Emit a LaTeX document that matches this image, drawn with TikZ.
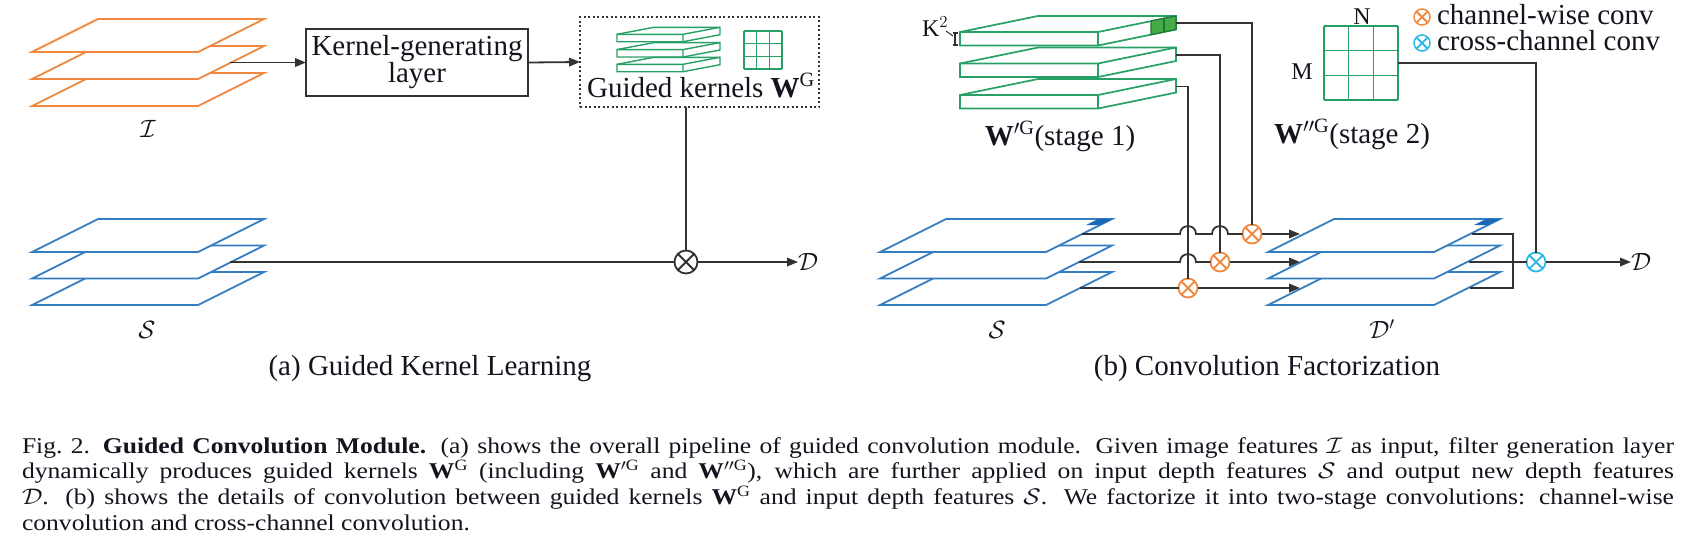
\RequirePackage{fix-cm}
\documentclass[tikz,border=0pt]{standalone}
\usepackage{fontspec}
\setmainfont{Liberation Serif}
\usepackage{graphicx}
\usetikzlibrary{arrows.meta,calc}
\definecolor{orc}{RGB}{242,135,62}
\definecolor{blu}{RGB}{52,125,195}
\definecolor{grn}{RGB}{38,160,100}
\definecolor{cyn}{RGB}{40,185,230}
\definecolor{ln}{RGB}{50,50,50}
\definecolor{txt}{RGB}{20,20,30}
\definecolor{cubef}{RGB}{70,170,70}
\definecolor{cubel}{RGB}{30,120,50}
\definecolor{bluf}{RGB}{25,105,185}
\newcommand\fsz[2]{\fontsize{#1}{#2}\selectfont}
\newcommand\plane[3]{\draw[planest=#1] (#2,#3) -- (#2+66,#3-33) -- (#2+232,#3-33) -- (#2+166,#3) -- cycle;}
\newcommand\corner[2]{\fill[bluf] (#1+218,#2-33) -- (#1+232,#2-33) -- (#1+220,#2-27) -- (#1+206,#2-27) -- cycle;}
% x, y (front top-left), w, dx, rise, h, style
\newcommand\slabx[7]{%
  \draw[#7] (#1,#2) -- (#1+#4,#2-#5) -- (#1+#3+#4,#2-#5) -- (#1+#3+#4,#2-#5+#6) -- (#1+#3,#2+#6) -- (#1,#2+#6) -- cycle;
  \draw[#7,fill=none] (#1,#2) -- (#1+#3,#2) -- (#1+#3,#2+#6) (#1+#3,#2) -- (#1+#3+#4,#2-#5);}
\begin{document}
\begin{tikzpicture}[x=1pt,y=-1pt,
  every node/.style={inner sep=0pt,outer sep=0pt,text=txt},
  conn/.style={draw=ln,line width=1.8pt},
  arr/.style={conn,-{Triangle[length=11pt,width=8.5pt]}},
  ox/.style={circle,draw=#1,line width=1.8pt,fill=white,minimum size=19pt,inner sep=0pt,
    path picture={\draw[#1,line width=1.8pt] (path picture bounding box.north west)--(path picture bounding box.south east) (path picture bounding box.north east)--(path picture bounding box.south west);}},
  planest/.style={draw=#1,line width=1.8pt,fill=white,line join=miter},
  slabst/.style={draw=grn,line width=1.7pt,fill=white,line join=miter},
  slabsm/.style={draw=grn,line width=1.4pt,fill=white,line join=miter},
  boxst/.style={draw=ln,line width=1.6pt,minimum width=222pt,minimum height=67pt,align=center,font=\fsz{29}{27}},
  dotbox/.style={draw=ln,line width=1.4pt,dash pattern=on 2pt off 2.5pt,minimum width=239pt,minimum height=90pt},
  tfont/.style={font=\fsz{29}{30}},
  mfont/.style={font=\fsz{25}{26}},
  lfont/.style={font=\fsz{24}{25}}]
\useasboundingbox (0,0) rectangle (1696,558);
\fill[white] (0,0) rectangle (1696,558);

% ---------- (a) ----------
\plane{orc}{32}{106}\plane{orc}{32}{79}\plane{orc}{32}{52}
\plane{blu}{32}{305}\plane{blu}{32}{278.5}\plane{blu}{32}{252}
\node[mfont] (Ilab) at (148,129) {$\mathcal{I}$};
\node[mfont] (Slab) at (147,330) {$\mathcal{S}$};
\coordinate (Iout) at (230,62.5);
\coordinate (Sout) at (230,262);
\node[boxst] (kg) at (417,62.5) {Kernel-generating\\layer};
\node[dotbox] (gk) at (699.5,62) {};
\slabx{617}{34.3}{66}{37}{7}{7.4}{slabsm}
\slabx{617}{49.6}{66}{37}{7}{7.4}{slabsm}
\slabx{617}{64.3}{66}{37}{7}{7.4}{slabsm}
\foreach \i in {0,1,2,3}{
  \draw[grn,line width=1.4pt] (744+\i*12.6,31) -- ++(0,37.8);
  \draw[grn,line width=1.4pt] (744,31+\i*12.6) -- ++(37.8,0);}
\node[tfont,anchor=base] (gkl) at (701,97) {Guided kernels $\mathbf{W}^{\mathrm{G}}$};
\node[ox=ln,minimum size=23pt] (mA) at (686,262) {};
\node[mfont,anchor=west] (DA) at (798,262) {$\mathcal{D}$};
\draw[arr] (Iout) -- (kg.west);
\draw[arr] (kg.east) -- (gk.west);
\draw[conn] (gk.south -| mA) -- (mA);
\draw[conn] (Sout) -- (mA);
\draw[arr] (mA) -- (DA.west);
\node[tfont,anchor=base] (capa) at (430,375) {(a) Guided Kernel Learning};

% ---------- (b) ----------
\slabx{960}{95}{138}{78}{16}{13.5}{slabst}
\slabx{960}{63.5}{138}{78}{16}{13.5}{slabst}
\slabx{960}{32}{138}{78}{16}{13.5}{slabst}
\filldraw[fill=cubef,draw=cubel,line width=1.2pt] (1151,20.9) -- (1176,16) -- (1176,29.5) -- (1151,34.6) -- cycle;
\draw[cubel,line width=1.2pt] (1164,18.5) -- (1164,32);
\node[lfont,anchor=base west] (Klab) at (922,36) {K$^2$};
\draw[ln,line width=1pt] (946,31) -- (953,36);
\draw[ln,line width=1.2pt] (955,33) -- (955,45) (952.5,33) -- (957.5,33) (952.5,45) -- (957.5,45);
\coordinate (c1) at (1176,23);
\coordinate (c2) at (1176,55);
\coordinate (c3) at (1176,86.5);
\node[tfont,anchor=base] (w1) at (1060,145) {$\mathbf{W}'^{\mathrm{G}}$(stage 1)};

\foreach \i in {0,1,2,3}{
  \draw[grn,line width=1.6pt] (1324+\i*24.667,26) -- ++(0,74);
  \draw[grn,line width=1.6pt] (1324,26+\i*24.667) -- ++(74,0);}
\coordinate (gout) at (1398,63);
\node[lfont] (Nlab) at (1362,17) {N};
\node[lfont] (Mlab) at (1302,72) {M};
\node[tfont,anchor=base] (w2) at (1352,143) {$\mathbf{W}''^{\mathrm{G}}$(stage 2)};

\node[ox=orc,minimum size=16pt,line width=1.5pt] (lg1) at (1422,17) {};
\node[ox=cyn,minimum size=16pt,line width=1.5pt] (lg2) at (1422,43) {};
\node[tfont,anchor=base west] (lt1) at (1437,24) {channel-wise conv};
\node[tfont,anchor=base west] (lt2) at (1437,50) {cross-channel conv};

\plane{blu}{880}{305}\plane{blu}{880}{278.5}\plane{blu}{880}{252}\corner{880}{252}
\plane{blu}{1268}{305}\plane{blu}{1268}{278.5}\plane{blu}{1268}{252}\corner{1268}{252}
\node[mfont] (S2lab) at (997,330) {$\mathcal{S}$};
\node[mfont] (Dplab) at (1382,329) {$\mathcal{D}'$};

\coordinate (s1) at (1082,234);
\coordinate (s2) at (1079,262);
\coordinate (s3) at (1080,288);
\coordinate (d1) at (1300,234);
\coordinate (d2) at (1300,262);
\coordinate (d3) at (1300,288);
\coordinate (e1) at (1472,234);
\coordinate (e2) at (1469,262);
\coordinate (e3) at (1470,288);
\node[ox=orc] (o1) at (1252,234) {};
\node[ox=orc] (o2) at (1220,262) {};
\node[ox=orc] (o3) at (1188,288) {};
\node[ox=cyn] (oB) at (1536,262) {};
\node[mfont,anchor=west] (DB) at (1631,262) {$\mathcal{D}$};

\draw[conn] (c1) -| (o1);
\draw[conn] (c2) -| (o2);
\draw[conn] (c3) -| (o3);
\draw[conn] (s1) -- (1180,234) .. controls (1180,223.5) and (1196,223.5) .. (1196,234) -- (1212,234) .. controls (1212,223.5) and (1228,223.5) .. (1228,234) -- (o1);
\draw[conn] (s2) -- (1180,262) .. controls (1180,251.5) and (1196,251.5) .. (1196,262) -- (o2);
\draw[conn] (s3) -- (o3);
\draw[arr] (o1) -- (d1);
\draw[arr] (o2) -- (d2);
\draw[arr] (o3) -- (d3);
\draw[conn] (e1) -- (1513,234) -- (1513,288) -- (e3);
\draw[conn] (e2) -- (oB);
\draw[conn] (gout) -| (oB);
\draw[arr] (oB) -- (DB.west);
\node[tfont,anchor=base] (capb) at (1267,375) {(b) Convolution Factorization};

% ---------- caption ----------
\node[anchor=base west] (cap) at (22,453) {\scalebox{1}[0.88]{\parbox[t]{1652pt}{\fsz{25.6}{29.5}\lineskiplimit=-20pt\tolerance=9999\hbadness=10000
Fig.~2.\hspace{0.5em}\textbf{Guided Convolution Module.} (a) shows the overall pipeline of guided convolution module. Given image features $\mathcal{I}$ as input, filter generation layer\linebreak
dynamically produces guided kernels $\mathbf{W}^{\mathrm{G}}$ (including $\mathbf{W}'^{\mathrm{G}}$ and $\mathbf{W}''^{\mathrm{G}}$), which are further applied on input depth features $\mathcal{S}$ and output new depth features\linebreak
$\mathcal{D}$. (b) shows the details of convolution between guided kernels $\mathbf{W}^{\mathrm{G}}$ and input depth features $\mathcal{S}$. We factorize it into two-stage convolutions: channel-wise\linebreak
convolution and cross-channel convolution.\par}}};
\end{tikzpicture}
\end{document}
